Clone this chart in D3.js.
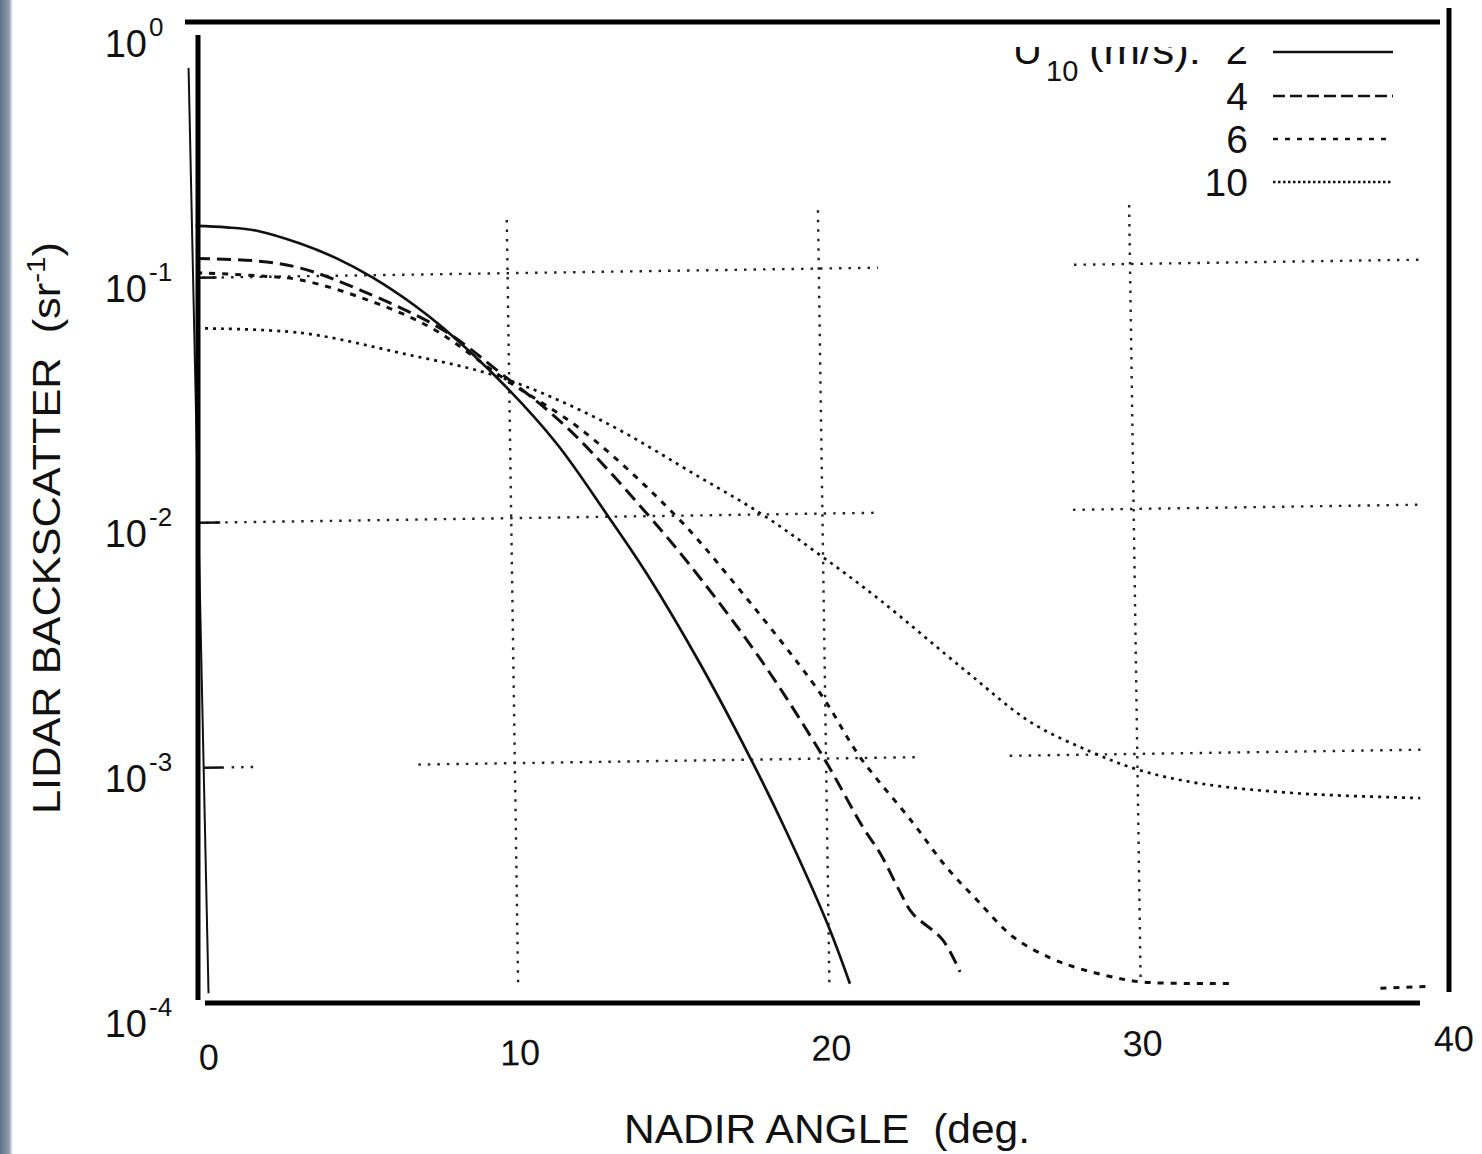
<!DOCTYPE html>
<html><head><meta charset="utf-8">
<script src="https://cdn.jsdelivr.net/npm/d3@7"></script>
<style>
body{margin:0;background:#fff}
svg{display:block}
text{font-family:"Liberation Sans",Arial,Helvetica,sans-serif;fill:#111}
</style>
</head><body>
<svg id="c" width="1482" height="1154"></svg>
<script>
// ---------- data ----------
const xTickValues = [0, 10, 20, 30, 40];
const yTickExponents = [0, -1, -2, -3, -4];
const windSpeeds = ["2", "4", "6", "10"];

const angle2 = [0, 1, 2, 3.35, 4.5, 5.67, 7, 7.9, 9.8, 11.5, 13.08, 14.33, 16, 17.56, 18.59, 19.95, 20.66];
const backscatter2 = [0.163, 0.160, 0.154, 0.136, 0.118, 0.0977, 0.0748, 0.0604, 0.0354, 0.0200, 0.0102, 0.00582, 0.00248, 0.00102, 0.00054, 0.000214, 0.000120];

const angle4 = [0, 2, 3.35, 5.26, 7.9, 9.8, 11.83, 14.46, 16.04, 18, 19.9, 21.15, 21.7, 22.28, 22.7, 23.66, 24.2];
const backscatter4 = [0.120, 0.116, 0.108, 0.0871, 0.0592, 0.0385, 0.0233, 0.00989, 0.00555, 0.0025, 0.00102, 0.000522, 0.000406, 0.000288, 0.000231, 0.000179, 0.000132];

const angle6 = [0, 2, 3.35, 5.48, 7.58, 9.8, 12.34, 15.33, 17.0, 19.84, 21.09, 22.76, 23.81, 24.78, 25.93, 27.1, 27.97, 29.25, 30.08, 32.96, 35, 37.7, 39.2];
const backscatter6 = [0.105, 0.101, 0.0966, 0.0794, 0.0599, 0.0374, 0.0225, 0.00986, 0.00553, 0.00185, 0.00101, 0.00054, 0.000355, 0.000259, 0.000182, 0.000149, 0.000135, 0.000122, 0.000117, 0.000114, null, 0.000107, 0.000108];

const angle10 = [0, 3.35, 6.51, 9.7, 12.9, 16.08, 18.09, 19.9, 21.81, 24.57, 26.58, 28.49, 30.08, 32.0, 35.21, 39.07];
const backscatter10 = [0.0622, 0.0587, 0.048, 0.0377, 0.0249, 0.0143, 0.00995, 0.00678, 0.0044, 0.00221, 0.00137, 0.00103, 0.000857, 0.000751, 0.000674, 0.000635];

// near-vertical spike at nadir
const spikeAngle = [-0.15, 0.05];
const spikeValue = [0.72, 0.00012];

// dotted grid pieces (gaps as in the original)
const gridHValues = [1e-1, 1e-2, 1e-3];
const gridHPieces = [[[0.2, 21.9], [28.2, 39.3]], [[0.2, 21.85], [28.05, 39.2]], [[0.9, 1.7], [6.9, 23.0], [25.9, 39.1]]];
const gridVAngles = [10, 20, 30];
const gridVTop = [0.165, 0.173, 0.174];
const gridVBottom = [1.22e-4, 1.2e-4, 1.2e-4];

// ---------- scales ----------
const svg = d3.select("#c");
const x = d3.scaleLinear().domain([0, 40]).range([200, 1445]);
const y = d3.scaleLog().domain([1e-4, 1]).range([1005, 25]);
const X0 = x.range()[0], X1 = x.range()[1], YB = y.range()[0], YT = y.range()[1];

// scan edge strip
const defs = svg.append("defs");
const g1 = defs.append("linearGradient").attr("id", "edge").attr("x1", 0).attr("x2", 1).attr("y1", 0).attr("y2", 0);
g1.append("stop").attr("offset", "0%").attr("stop-color", "#5d7189");
g1.append("stop").attr("offset", "70%").attr("stop-color", "#8e9cae");
g1.append("stop").attr("offset", "100%").attr("stop-color", "#ffffff");
svg.append("rect").attr("x", 0).attr("y", 0).attr("width", 13).attr("height", 1154).attr("fill", "url(#edge)");

defs.append("clipPath").attr("id", "legClip").append("rect").attr("x", 900).attr("y", 47).attr("width", 400).attr("height", 200);

// rotated content (scan is slightly tilted)
const inner = svg.append("g").attr("transform", "rotate(-0.85,725,520)");

const gridStyle = s => s.attr("stroke", "#222").attr("stroke-width", 2.4).attr("stroke-dasharray", "2.5,7").attr("fill", "none");
gridHValues.forEach((v, i) => {
  gridHPieces[i].forEach(p => {
    inner.append("line").attr("x1", x(p[0])).attr("x2", x(p[1])).attr("y1", y(v)).attr("y2", y(v)).call(gridStyle);
  });
});
gridVAngles.forEach((a, i) => {
  inner.append("line").attr("x1", x(a)).attr("x2", x(a)).attr("y1", y(gridVTop[i])).attr("y2", y(gridVBottom[i])).call(gridStyle);
});

// left axis tick marks
gridHValues.forEach(v => {
  inner.append("line").attr("x1", x(0)).attr("x2", x(0.65)).attr("y1", y(v)).attr("y2", y(v)).attr("stroke", "#111").attr("stroke-width", 2.5);
});

const styles = {
  "2": {dash: null, w: 2.7},
  "4": {dash: "14,7", w: 3},
  "6": {dash: "6,7", w: 3},
  "10": {dash: "3,5", w: 2.7}
};
const seriesData = {
  "2": angle2.map((a, i) => [a, backscatter2[i]]),
  "4": angle4.map((a, i) => [a, backscatter4[i]]),
  "6": angle6.map((a, i) => [a, backscatter6[i]]),
  "10": angle10.map((a, i) => [a, backscatter10[i]])
};
const line = d3.line().defined(d => d[1] != null).x(d => x(d[0])).y(d => y(d[1])).curve(d3.curveCatmullRom.alpha(0.5));

windSpeeds.forEach(k => {
  inner.append("path").datum(seriesData[k]).attr("d", line)
    .attr("fill", "none").attr("stroke", "#111").attr("stroke-width", styles[k].w)
    .attr("stroke-dasharray", styles[k].dash);
});
inner.append("path").datum(spikeAngle.map((a, i) => [a, spikeValue[i]]))
  .attr("d", d3.line().x(d => x(d[0])).y(d => y(d[1])))
  .attr("fill", "none").attr("stroke", "#111").attr("stroke-width", 2);

// x tick labels (tilted with the content)
inner.selectAll(".xt").data(xTickValues).enter().append("text")
  .attr("x", d => x(d) + 1).attr("y", YB + 57).attr("text-anchor", "middle")
  .attr("font-size", 36).text(d => d);

// ---------- straight frame ----------
const frame = svg.append("g").attr("stroke", "#000").attr("stroke-width", 5);
frame.append("line").attr("x1", X0 - 15).attr("x2", X1 - 5).attr("y1", YT - 3).attr("y2", YT - 3);
frame.append("line").attr("x1", X0 - 2).attr("x2", X0 - 2).attr("y1", YT + 10).attr("y2", YB - 5);
frame.append("line").attr("x1", X0 + 5).attr("x2", X1 - 25).attr("y1", YB - 2).attr("y2", YB - 2);
frame.append("line").attr("x1", X1 + 4).attr("x2", X1 + 4).attr("y1", YT - 17).attr("y2", YB - 13);

// y tick labels
yTickExponents.forEach(e => {
  const yy = y(Math.pow(10, e));
  svg.append("text").attr("x", 147).attr("y", yy + 32).attr("text-anchor", "end").attr("font-size", 38).text("10");
  svg.append("text").attr("x", 149).attr("y", yy + 11).attr("text-anchor", "start").attr("font-size", 26).text(e === 0 ? "0" : String(e));
});

// axis titles
svg.append("text").attr("transform", "translate(60,528) rotate(-90)").attr("text-anchor", "middle")
  .attr("font-size", 38).attr("textLength", 572).attr("lengthAdjust", "spacingAndGlyphs")
  .call(t => {
    t.append("tspan").text("LIDAR BACKSCATTER\u00a0\u00a0(sr");
    t.append("tspan").attr("font-size", 26).attr("dy", -15).text("-1");
    t.append("tspan").attr("dy", 15).text(")");
  });

svg.append("text")
  .attr("x", 624).attr("y", 1143).attr("text-anchor", "start").attr("font-size", 40)
  .attr("textLength", 406).attr("lengthAdjust", "spacingAndGlyphs")
  .text("NADIR ANGLE\u00a0\u00a0(deg.");

// ---------- legend ----------
const legY = [52, 96, 139, 182];
const leg = svg.append("g");
windSpeeds.forEach((k, i) => {
  leg.append("line").attr("x1", 1273).attr("x2", 1393).attr("y1", legY[i]).attr("y2", legY[i])
    .attr("stroke", "#111").attr("stroke-width", k === "2" ? 2.6 : 2.4)
    .attr("stroke-dasharray", k === "4" ? "12,5" : k === "6" ? "5,7" : k === "10" ? "2.5,2.5" : null);
  if (i > 0) {
    leg.append("text").attr("x", 1248).attr("y", legY[i] + 14).attr("text-anchor", "end").attr("font-size", 39).text(k);
  }
});
const head = leg.append("g").attr("clip-path", "url(#legClip)");
head.append("text").attr("x", 1013).attr("y", 64).attr("font-size", 40).text("U");
head.append("text").attr("x", 1046).attr("y", 81).attr("font-size", 29).text("10");
head.append("text").attr("x", 1089).attr("y", 64).attr("font-size", 40).attr("textLength", 112).attr("lengthAdjust", "spacingAndGlyphs").text("(m/s):");
head.append("text").attr("x", 1248).attr("y", 64).attr("text-anchor", "end").attr("font-size", 40).text("2");
</script>
</body></html>
